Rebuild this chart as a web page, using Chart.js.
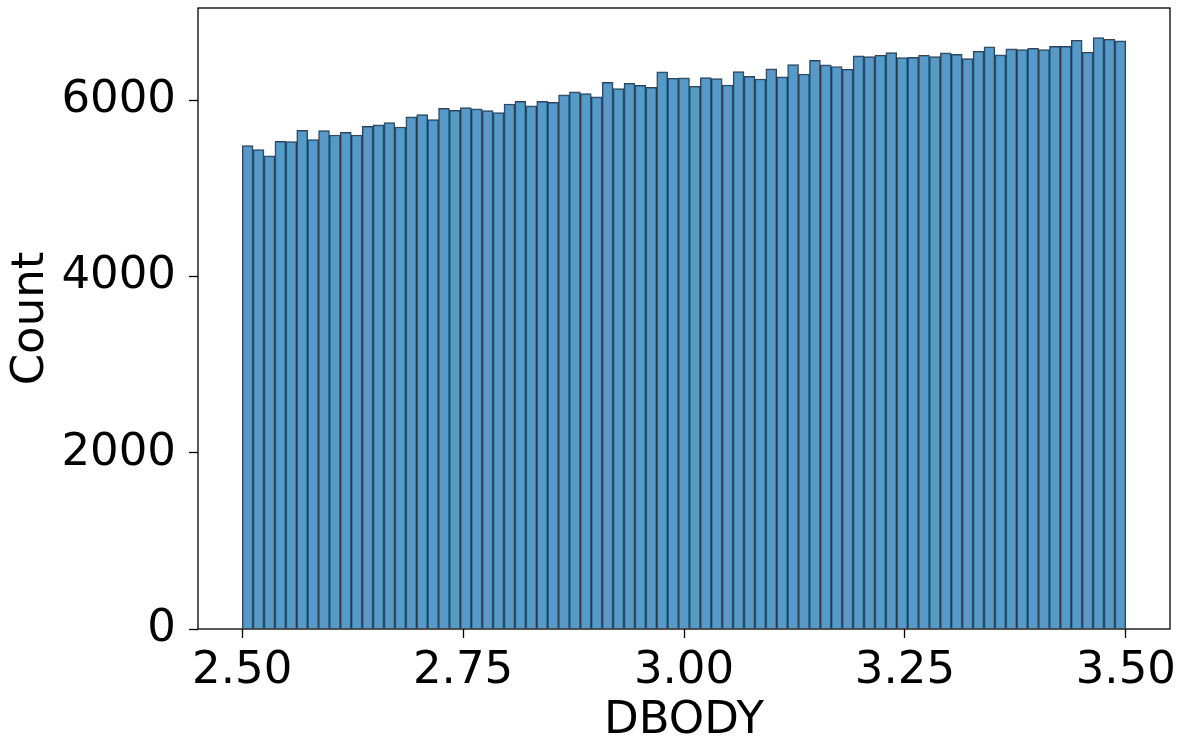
<!DOCTYPE html>
<html>
<head>
<meta charset="utf-8">
<script src="https://cdn.jsdelivr.net/npm/chart.js@4"></script>
<style>
  html, body { margin: 0; padding: 0; background: #fff; }
  #wrap { width: 1182px; height: 740px; }
</style>
</head>
<body>
<div id="wrap"><canvas id="myChart" width="1182" height="740"></canvas></div>
<script>
//data
const binStart = 2.5;
const binEnd = 3.5;
const counts = [
  5489, 5443, 5372, 5538, 5534, 5663, 5557, 5659, 5610, 5640, 5610, 5708, 5724, 5750,
  5701, 5815, 5841, 5784, 5913, 5890, 5920, 5906, 5886, 5864, 5962, 5992, 5940,
  5992, 5981, 6065, 6099, 6080, 6042, 6208, 6136, 6197, 6174, 6151, 6326, 6254, 6258,
  6163, 6261, 6250, 6178, 6329, 6276, 6246, 6360, 6269, 6409, 6303, 6458, 6406, 6388,
  6356, 6508, 6500, 6515, 6546, 6489, 6492, 6515, 6500, 6542, 6526, 6477, 6561, 6612,
  6519, 6587, 6580, 6595, 6580, 6617, 6617, 6686, 6549, 6716, 6697, 6678
];
const xTicks = [2.5, 2.75, 3.0, 3.25, 3.5];
const yTicks = [0, 2000, 4000, 6000];
const xTitle = "DBODY";
const yTitle = "Count";

// bin centres from the bin edges
const binWidth = (binEnd - binStart) / counts.length;
const points = counts.map((c, i) => ({ x: binStart + (i + 0.5) * binWidth, y: c }));

const font = { family: "'DejaVu Sans'", size: 45 };

// box around the axes (matplotlib spines)
const spines = {
  id: "spines",
  afterDraw(chart) {
    const a = chart.chartArea;
    const ctx = chart.ctx;
    ctx.save();
    ctx.strokeStyle = "#000";
    ctx.lineWidth = 1.3;
    ctx.strokeRect(a.left, a.top, a.right - a.left, a.bottom - a.top);
    ctx.restore();
  },
};

//config
const config = {
  type: "bar",
  data: {
    datasets: [
      {
        data: points,
        backgroundColor: "rgba(31, 119, 180, 0.75)",
        borderColor: "rgba(20, 30, 45, 0.85)",
        borderWidth: 1,
        borderSkipped: "bottom",
        barPercentage: 1,
        categoryPercentage: 1,
      },
    ],
  },
  options: {
    responsive: false,
    animation: false,
    devicePixelRatio: 1,
    layout: { padding: { top: 8, right: 12, left: 0, bottom: 0 } },
    plugins: {
      legend: { display: false },
      tooltip: { enabled: false },
    },
    scales: {
      x: {
        type: "linear",
        min: 2.45,
        max: 3.55,
        offset: false,
        afterBuildTicks: (scale) => {
          scale.ticks = xTicks.map((v) => ({ value: v }));
        },
        afterFit: (scale) => {
          scale.height = 111;
          scale.paddingLeft = 0;
          scale.paddingRight = 0;
        },
        ticks: {
          color: "#000",
          font: font,
          padding: 6,
          maxRotation: 0,
          callback: (v) => v.toFixed(2),
        },
        grid: {
          offset: false,
          drawOnChartArea: false,
          drawTicks: true,
          tickLength: 9,
          tickWidth: 1.3,
          tickColor: "#000",
        },
        border: { display: false },
        title: { display: true, text: xTitle, color: "#000", font: font, padding: { top: 0, bottom: -8 } },
      },
      y: {
        min: 0,
        max: 7052,
        afterBuildTicks: (scale) => {
          scale.ticks = yTicks.map((v) => ({ value: v }));
        },
        afterFit: (scale) => {
          scale.width = 198;
          scale.paddingTop = 0;
          scale.paddingBottom = 0;
        },
        ticks: {
          color: "#000",
          font: font,
          padding: 13,
          callback: (v) => String(v),
        },
        grid: {
          drawOnChartArea: false,
          drawTicks: true,
          tickLength: 9,
          tickWidth: 1.3,
          tickColor: "#000",
        },
        border: { display: false },
        title: { display: true, text: yTitle, color: "#000", font: font, padding: { top: 4, bottom: 0 } },
      },
    },
  },
  plugins: [spines],
};

const myChart = new Chart(document.getElementById("myChart"), config);
</script>
</body>
</html>
